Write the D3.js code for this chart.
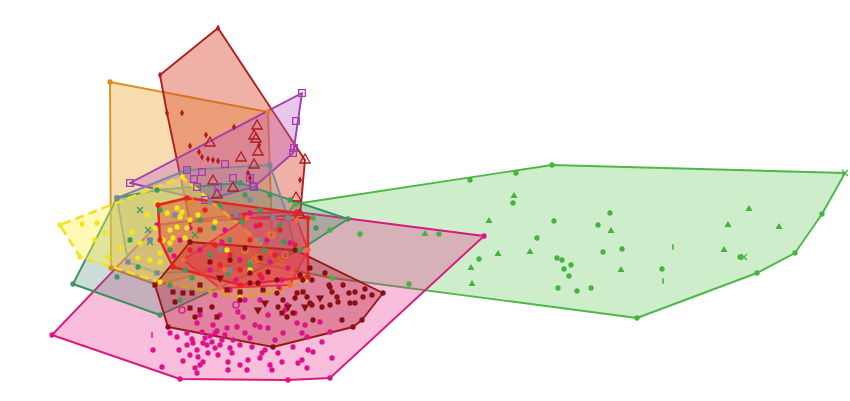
<!DOCTYPE html>
<html><head><meta charset="utf-8">
<script src="https://cdn.jsdelivr.net/npm/d3@7"></script>
<style>html,body{margin:0;padding:0;background:#fff;overflow:hidden}</style>
</head><body><svg id="chart" width="850" height="401"></svg>
<script>
// Each point: [PC1, PC2, marker]
const greenPts = [[29.5,19.6,"c"],[51.6,22.7,"c"],[55.2,23.5,"c"],[84.5,22.7,"x"],[82.2,18.6,"c"],[79.5,14.7,"c"],[75.7,12.7,"c"],[63.7,8.2,"c"],[25.0,13.8,"c"],
 [51.4,20.4,"t"],[51.3,19.7,"c"],[48.9,17.9,"t"],[55.4,17.9,"c"],[53.7,16.2,"c"],[49.8,14.6,"t"],[53.0,14.8,"t"],[55.7,14.2,"c"],[56.2,14.0,"c"],[57.1,13.5,"c"],[56.4,13.1,"c"],[56.9,12.4,"c"],[55.8,11.2,"c"],[57.7,10.9,"c"],[59.1,11.2,"c"],[61.0,18.7,"c"],[59.8,17.5,"c"],[61.1,16.9,"t"],[60.3,14.8,"c"],[62.2,15.1,"c"],[62.1,13.0,"t"],[66.2,13.1,"c"],[67.3,15.3,"b"],[66.3,11.9,"b"],[72.8,17.5,"t"],[74.9,19.1,"t"],[77.9,17.3,"t"],[72.4,15.0,"t"],[74.0,14.3,"c"],[74.4,14.3,"x"],[47.0,22.0,"c"],[47.9,14.1,"c"],[47.1,13.2,"t"],[47.2,11.6,"t"],[43.9,16.6,"c"],[42.5,16.6,"t"],[40.9,11.6,"c"],[36.0,16.6,"c"],[33.0,17.0,"c"],[31.3,18.2,"c"],[33.2,12.2,"c"]];

const pinkPts = [[5.2,6.5,"c"],[15.7,17.5,"c"],[29.7,18.8,"c"],[48.4,16.4,"c"],[33.0,2.2,"c"],[28.8,2.0,"c"],[18.0,2.1,"c"],
 [15.3,5.0,"c"],[16.2,3.3,"c"],[17.9,5.0,"c"],[18.3,3.9,"c"],[18.7,6.7,"c"],[19.3,5.7,"c"],[19.7,5.0,"c"],[19.8,4.3,"c"],[19.5,3.2,"c"],[19.7,2.7,"c"],[20.3,3.8,"c"],[20.8,4.7,"c"],[21.2,5.8,"c"],[21.5,6.7,"c"],[22.2,6.0,"c"],[22.7,7.2,"c"],[23.2,4.7,"c"],[22.8,3.8,"c"],[22.8,3.0,"c"],[23.7,7.3,"c"],[24.0,3.5,"c"],[24.7,3.0,"c"],[24.5,6.7,"c"],[25.0,6.2,"c"],[25.2,5.3,"c"],[26.2,4.7,"c"],[26.0,4.2,"c"],[26.5,5.0,"c"],[26.8,7.2,"c"],[27.0,3.5,"c"],[27.2,3.0,"c"],[27.5,6.0,"c"],[27.8,4.7,"c"],[28.2,3.8,"c"],[28.3,6.7,"c"],[29.3,5.3,"c"],[29.7,7.7,"c"],[29.8,3.7,"c"],[30.2,4.0,"c"],[30.7,6.3,"c"],[31.3,4.8,"c"],[32.2,5.8,"c"],[33.2,4.2,"c"],[30.7,3.2,"c"],[17.7,6.3,"c"],[17.0,6.7,"c"],[20.3,5.7,"c"],[22.0,5.5,"c"],[23.3,6.0,"c"],[21.3,7.5,"c"],[19.7,7.7,"c"],[23.8,8.8,"c"],[24.3,8.3,"c"],[26.0,7.3,"c"],[28.5,9.0,"c"],[29.5,8.7,"c"],[26.8,8.5,"c"],[22.0,8.5,"c"],[20.0,8.5,"c"],[15.2,6.5,"b"],[18.7,5.5,"c"],[33.0,6.8,"c"],[30.8,5.0,"c"],[28.7,9.5,"c"],[30.5,7.5,"c"],[32.0,7.8,"c"],[30.2,6.7,"c"],[25.0,18.7,"c"],[29.0,15.7,"c"],[26.7,16.0,"c"],[28.2,12.0,"c"],[23.0,11.0,"c"],[24.5,10.0,"c"],[21.5,10.5,"c"],[26.0,10.0,"c"],[20.0,15.0,"c"],[18.0,16.0,"c"],[22.5,17.0,"c"],[21.0,13.0,"c"],[27.0,13.8,"c"],[19.0,17.2,"c"],[20.5,6.2,"c"],[21.0,6.4,"c"],[20.7,5.5,"c"],[21.5,5.2,"c"],[22.5,6.5,"c"],[21.8,4.5,"c"],[20.0,3.5,"c"],[19.0,4.5,"c"],[24.0,5.5,"c"],[25.5,7.5,"c"],[20.2,6.8,"c"],[21.7,6.9,"c"],[19.2,6.1,"c"],[23.0,5.2,"c"],[24.8,4.0,"c"],[18.2,9.0,"o"],[23.6,9.5,"o"],
 [24.0,14.0,"c"],[26.2,12.2,"c"],[28.8,13.2,"c"],[22.2,15.8,"c"],[25.6,17.4,"c"],[23.6,12.0,"c"],[27.9,11.2,"c"],[17.4,14.4,"c"]];

const darkRedPts = [[15.5,11.5,"s"],[19.0,15.8,"c"],[29.5,15.0,"c"],[38.3,10.7,"c"],[35.3,7.3,"c"],[27.3,5.3,"c"],[16.8,7.3,"c"],
 [17.3,10.8,"s"],[18.3,10.7,"s"],[19.2,10.7,"s"],[20.0,11.5,"s"],[17.5,9.8,"c"],[19.0,9.2,"s"],[20.0,9.0,"s"],[21.7,8.3,"s"],[21.2,9.3,"c"],[19.5,8.3,"c"],[25.0,11.7,"c"],[25.8,11.7,"c"],[27.7,12.0,"c"],[26.5,9.7,"v"],[25.8,9.0,"v"],[28.2,8.7,"s"],[28.3,10.0,"c"],[28.8,9.3,"v"],[29.7,10.7,"c"],[30.3,10.8,"s"],[30.5,9.3,"v"],[31.0,9.7,"c"],[31.2,12.0,"c"],[30.3,12.0,"c"],[31.3,8.0,"c"],[32.2,9.3,"c"],[32.5,12.7,"c"],[33.0,11.3,"c"],[33.2,10.8,"c"],[33.7,10.3,"c"],[34.3,11.5,"c"],[35.0,9.7,"c"],[35.5,10.8,"c"],[36.3,10.3,"c"],[37.2,10.5,"c"],[34.2,8.0,"c"],[26.3,11.0,"s"],[24.0,10.8,"s"],[22.7,11.0,"s"],[27.7,10.7,"c"],[26.8,12.8,"c"],[25.0,12.7,"c"],[30.0,12.5,"c"],[31.0,13.2,"c"],[27.8,9.3,"c"],[24.0,10.0,"c"],[32.9,11.5,"c"],[34.9,10.7,"c"],[36.5,11.1,"c"],[35.5,9.7,"c"],[33.8,9.8,"c"],[33.0,9.5,"c"],[36.2,8.0,"c"],[30.7,10.3,"c"],[31.2,9.5,"c"],[29.5,10.2,"c"],[29.3,8.7,"c"],[28.7,8.3,"c"],[23.0,14.0,"c"],[21.0,13.8,"c"],[26.0,14.2,"s"],[24.5,15.2,"c"],[22.0,12.2,"v"],[32.0,10.2,"v"]];

const orangePts = [[11.0,31.8,"c"],[26.8,28.8,"c"],[27.2,16.5,"o"],[15.7,11.5,"c"],[11.1,13.2,"c"],[19.0,20.0,"o"],[20.0,17.0,"o"],[22.0,16.0,"o"],[24.5,15.0,"o"],[25.8,14.2,"o"]];

const brownPts = [[21.8,37.2,"d"],[16.0,32.5,"d"],[19.0,17.8,"d"],[30.0,18.5,"T"],[30.5,24.0,"T"],
 [16.7,28.7,"d"],[18.2,28.7,"d"],[20.6,26.5,"d"],[19.0,25.4,"d"],[19.9,24.8,"d"],[20.2,24.3,"d"],[20.8,24.1,"d"],[21.3,24.0,"d"],[21.8,23.9,"d"],[23.4,27.3,"d"],[25.7,27.4,"T"],[25.4,26.4,"T"],[25.6,26.1,"T"],[25.9,25.5,"d"],[25.8,24.8,"T"],[24.1,24.2,"T"],[21.0,25.7,"T"],[25.4,23.5,"T"],[24.8,22.7,"d"],[21.3,21.9,"T"],[23.3,21.2,"T"],[21.7,20.5,"T"],[25.0,22.2,"d"],[30.0,22.0,"d"],[29.6,20.2,"T"]];

const purplePts = [[13.0,21.7,"S"],[30.2,30.7,"S"],[29.6,27.9,"S"],[29.3,24.7,"S"],[25.3,21.4,"S"],[20.5,20.0,"S"],
 [22.5,23.6,"S"],[20.2,22.8,"S"],[18.7,23.0,"S"],[19.4,22.1,"S"],[21.8,21.3,"S"],[23.3,22.2,"S"],[25.0,22.2,"S"],[25.4,21.3,"S"],[19.7,21.3,"S"],[29.4,25.2,"S"]];

const tealPts = [[7.3,11.6,"c"],[11.7,20.2,"c"],[15.7,21.0,"c"],[24.0,21.7,"c"],[34.8,18.1,"c"],[30.0,15.0,"c"],[16.0,8.5,"c"],
 [14.8,17.0,"x"],[15.0,15.8,"x"],[13.8,13.3,"c"],[11.7,12.3,"c"],[17.0,15.0,"c"],[18.5,13.0,"c"],[20.0,18.0,"c"],[22.0,19.5,"c"],[24.5,20.5,"c"],[26.0,19.0,"c"],[28.0,17.5,"c"],[23.0,16.0,"c"],[21.0,14.5,"c"],[25.0,13.5,"c"],[18.0,10.0,"c"],[17.0,11.5,"c"],[19.5,16.5,"x"],[16.0,19.0,"c"],[29.0,20.0,"c"],[27.0,20.5,"c"],[14.0,19.0,"x"],[13.0,16.0,"c"],
 [21.4,17.2,"c"],[24.2,17.8,"c"],[26.4,15.0,"c"],[19.2,12.2,"c"],[22.8,12.6,"c"],[28.4,15.8,"c"],[31.6,17.2,"c"]];

const grayPts = [[11.7,20.2,"s"],[18.7,23.0,"s"],[27.0,23.5,"s"],[29.5,15.0,"s"],[23.0,13.0,"s"],[12.8,13.8,"s"],[15.7,12.7,"s"],
 [27.3,18.2,"s"],[28.8,18.2,"s"],[25.0,20.0,"s"],[20.0,17.0,"s"],[17.5,18.5,"s"],[15.0,16.0,"s"],[22.0,15.0,"s"],[26.0,16.0,"s"],[23.6,18.6,"c"],[21.0,19.8,"c"]];

const yellowPts = [[6.0,17.5,"c"],[18.2,22.3,"c"],[30.5,12.0,"c"],[24.0,10.2,"c"],[16.0,11.8,"c"],[8.0,14.3,"c"],
 [8.2,17.6,"c"],[9.7,17.7,"c"],[10.5,16.7,"c"],[13.2,16.8,"c"],[14.7,18.5,"c"],[14.0,15.7,"c"],[15.7,19.7,"c"],[16.7,18.7,"c"],[17.7,17.3,"c"],[16.3,16.0,"c"],[17.3,16.2,"c"],[16.0,14.7,"c"],[15.0,14.0,"c"],[13.8,14.2,"c"],[12.0,15.2,"c"],[10.8,14.3,"c"],[18.7,17.2,"c"],[19.0,18.0,"c"],[18.2,18.8,"c"],[17.0,17.0,"c"],[15.5,17.2,"c"],[17.7,19.2,"c"],[18.0,18.3,"c"],[18.5,16.2,"c"],[17.0,15.7,"c"],[22.7,15.0,"c"],[19.8,18.5,"c"],[16.0,13.8,"c"],[27.7,10.8,"c"],[25.0,13.0,"c"],[21.5,17.8,"c"],[9.5,16.0,"c"]];

const redPts = [[15.8,19.5,"c"],[18.7,20.2,"c"],[29.7,18.7,"c"],[30.8,18.2,"c"],[30.8,12.3,"c"],[24.0,11.5,"c"],[17.3,13.3,"c"],[16.0,16.0,"c"],
 [20.0,17.0,"c"],[21.5,15.5,"c"],[23.0,14.5,"c"],[25.0,16.0,"c"],[26.0,17.5,"c"],[28.0,17.0,"c"],[24.0,13.0,"c"],[22.0,13.5,"c"],[19.0,15.0,"c"],[27.5,14.5,"c"],[29.5,15.5,"c"],[24.5,18.5,"c"],[20.5,19.0,"c"],[26.0,12.5,"c"]];

const crimsonPts = [[18.3,14.0,"c"],[24.7,18.2,"c"],[29.7,18.0,"c"],[30.8,15.0,"c"],[29.0,11.5,"c"],[22.0,11.2,"c"],
 [24.0,16.0,"o"],[27.0,16.5,"o"],[25.5,14.0,"o"],[22.5,13.0,"c"],[28.5,14.5,"o"]];

const groupNames = ["green","orange","brown","purple","pink","teal","gray","yellow","darkred","red","crimson"];
const groupData  = [greenPts, orangePts, brownPts, purplePts, pinkPts, tealPts, grayPts, yellowPts, darkRedPts, redPts, crimsonPts];
const strokeCols = ["#4db848","#d9921c","#b01f1f","#a53cb0","#d8197f","#3d9160","#7b8a99","#f2e21e","#9c1518","#e8231f","#e8304a"];
const fillCols   = ["#5ec44f","#eaa22c","#d8452c","#bf5cc8","#e7298a","#4f8f78","#8090a0","#fff04a","#b2182b","#e8231f","#e8304a"];
const fillOps    = [0.3,0.38,0.42,0.35,0.3,0.3,0.2,0.4,0.35,0.32,0.3];
const pointCols  = ["#45b33f","#e08a20","#b3191c","#a53cb0","#e0128a","#3d9a5c","#7a879c","#f4e41a","#8a0f12","#e8231f","#f06a3a"];

const svg = d3.select("#chart");
const x = d3.scaleLinear().domain([0,85]).range([0,850]);
const y = d3.scaleLinear().domain([0,40]).range([400,0]);

// convex hulls
groupData.forEach((pts,i)=>{
  const proj = pts.map(p=>[x(p[0]),y(p[1])]);
  const hull = d3.polygonHull(proj);
  svg.append("path")
    .attr("d","M"+hull.join("L")+"Z")
    .attr("fill",fillCols[i]).attr("fill-opacity",fillOps[i])
    .attr("stroke",strokeCols[i]).attr("stroke-width",groupNames[i]==="yellow"?2.6:(groupNames[i]==="red"?2.4:1.9))
    .attr("stroke-linejoin","round")
    .attr("stroke-dasharray",groupNames[i]==="yellow"?"9,5":null);
});

const symMap = {c:d3.symbolCircle,s:d3.symbolSquare,t:d3.symbolTriangle,v:d3.symbolTriangle,d:d3.symbolDiamond,x:d3.symbolX,b:d3.symbolSquare,T:d3.symbolTriangle,S:d3.symbolSquare,o:d3.symbolCircle};
const sizeMap = {c:22,s:26,t:22,v:30,d:14,x:24,b:10,T:46,S:44,o:30};
const openSet = new Set(["T","S","o","x"]);

groupData.forEach((pts,i)=>{
  svg.append("g").selectAll("path").data(pts).join("path")
    .attr("transform",d=>{
      let t = `translate(${x(d[0])},${y(d[1])})`;
      if(d[2]==="v") t += " rotate(180)";
      if(d[2]==="b") t += " scale(0.5,1.8)";
      return t;
    })
    .attr("d",d=>d3.symbol().type(symMap[d[2]]).size(sizeMap[d[2]])())
    .attr("fill",d=>openSet.has(d[2])?"none":pointCols[i])
    .attr("stroke",d=>openSet.has(d[2])?pointCols[i]:"none")
    .attr("stroke-width",1.3);
});
</script></body></html>
